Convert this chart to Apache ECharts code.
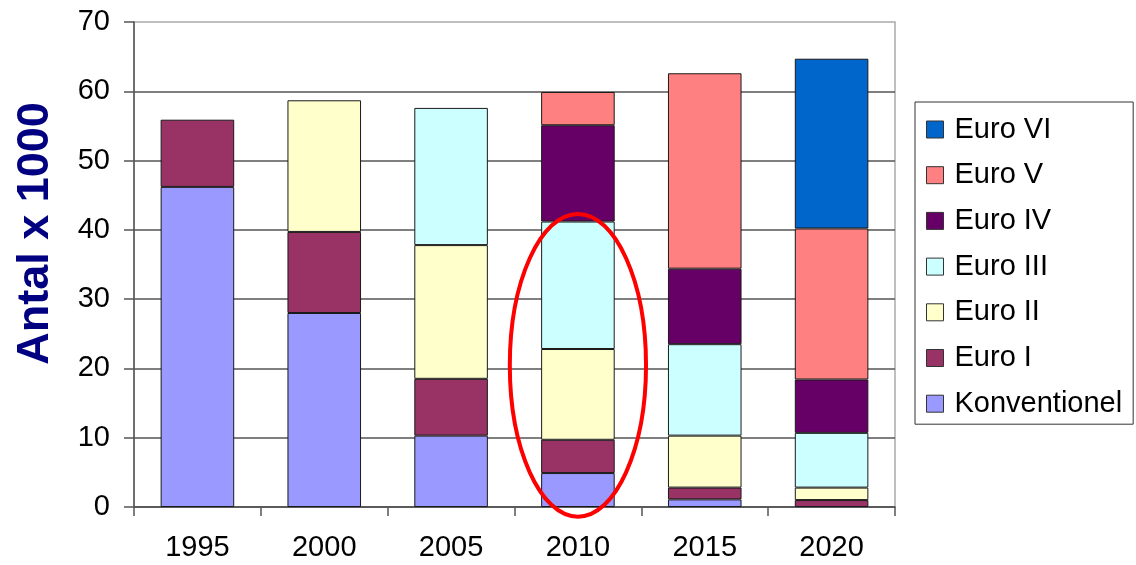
<!DOCTYPE html>
<html>
<head>
<meta charset="utf-8">
<script src="https://cdn.jsdelivr.net/npm/echarts@6/dist/echarts.min.js"></script>
<style>
html,body{margin:0;padding:0;background:#fff;}
#chart{width:1136px;height:565px;}
</style>
</head>
<body>
<div id="chart"></div>
<script>
var categories = ['1995', '2000', '2005', '2010', '2015', '2020'];
var seriesNames = ['Konventionel', 'Euro I', 'Euro II', 'Euro III', 'Euro IV', 'Euro V', 'Euro VI'];
var konventionel = [46.2, 28.0, 10.3, 4.9, 1.1, null];
var euroI   = [9.7, 11.7, 8.2, 4.8, 1.7, 1.0];
var euroII  = [null, 19.0, 19.3, 13.1, 7.5, 1.8];
var euroIII = [null, null, 19.8, 18.4, 13.2, 7.9];
var euroIV  = [null, null, null, 13.9, 10.9, 7.7];
var euroV   = [null, null, null, 4.8, 28.2, 21.8];
var euroVI  = [null, null, null, null, null, 24.5];
var yTicks = [0, 10, 20, 30, 40, 50, 60, 70];
var yAxisTitle = 'Antal x 1000';
// highlighted category and its vertical extent (data units)
var highlightCategory = '2010';
var highlightLow = -1.4, highlightHigh = 42.3;

var colors = ['#9999FF', '#993366', '#FFFFCC', '#CCFFFF', '#660066', '#FF8080', '#0066CC'];
var values = [konventionel, euroI, euroII, euroIII, euroIV, euroV, euroVI];
var FONT = '"Liberation Sans", Arial, sans-serif';

var series = seriesNames.map(function (n, i) {
  return {
    name: n, type: 'bar', stack: 'total', data: values[i],
    barWidth: '58%',
    itemStyle: { color: colors[i], borderColor: '#1a1a1a', borderWidth: 1 },
    emphasis: { disabled: true }
  };
});

var chart = echarts.init(document.getElementById('chart'), null, { renderer: 'canvas' });
chart.setOption({
  animation: false,
  backgroundColor: '#fff',
  textStyle: { fontFamily: FONT },
  grid: { left: 134, right: 241, top: 22, bottom: 58, show: true, borderColor: '#aaaaaa', borderWidth: 1.5, backgroundColor: 'transparent' },
  legend: {
    data: seriesNames.slice().reverse(),
    orient: 'vertical',
    left: 915, top: 102,
    padding: [13, 11, 6, 11],
    itemWidth: 17, itemHeight: 17, itemGap: 16.7,
    borderColor: '#333', borderWidth: 1,
    icon: 'rect',
    itemStyle: { borderColor: '#333', borderWidth: 1 },
    textStyle: { fontFamily: FONT, fontSize: 29, color: '#000', lineHeight: 28, padding: [0, 0, 0, 6] },
    selectedMode: false
  },
  xAxis: {
    type: 'category', data: categories,
    axisLine: { lineStyle: { color: '#555', width: 1.5 } },
    axisTick: { show: true, length: 9, alignWithLabel: false, lineStyle: { color: '#555', width: 1.5 } },
    axisLabel: { fontFamily: FONT, fontSize: 29, color: '#000', margin: 26 }
  },
  yAxis: {
    type: 'value', min: yTicks[0], max: yTicks[yTicks.length - 1], interval: 10,
    name: yAxisTitle, nameLocation: 'middle', nameGap: 76,
    nameTextStyle: { fontFamily: FONT, fontSize: 45, fontWeight: 'bold', color: '#000080', padding: [0, 0, 0, 62] },
    axisLine: { show: true, lineStyle: { color: '#555', width: 1.5 } },
    axisTick: { show: true, length: 10, lineStyle: { color: '#555', width: 1.5 } },
    axisLabel: { fontFamily: FONT, fontSize: 29, color: '#000', margin: 24 },
    splitLine: { show: true, showMaxLine: false, lineStyle: { color: '#555', width: 1.5 } }
  },
  series: series
});

// red ellipse annotation around the highlighted category, placed via axis scales
var idx = categories.indexOf(highlightCategory);
var pTop = chart.convertToPixel({ gridIndex: 0 }, [idx, highlightHigh]);
var pBot = chart.convertToPixel({ gridIndex: 0 }, [idx, highlightLow]);
var pNext = chart.convertToPixel({ gridIndex: 0 }, [idx + 1, 0]);
var catW = pNext[0] - pTop[0];
chart.setOption({
  graphic: [{
    type: 'ellipse',
    shape: { cx: pTop[0], cy: (pTop[1] + pBot[1]) / 2, rx: catW * 0.537, ry: (pBot[1] - pTop[1]) / 2 },
    style: { fill: 'none', stroke: '#FF0000', lineWidth: 4 },
    z: 100, silent: true
  }]
});
</script>
</body>
</html>
